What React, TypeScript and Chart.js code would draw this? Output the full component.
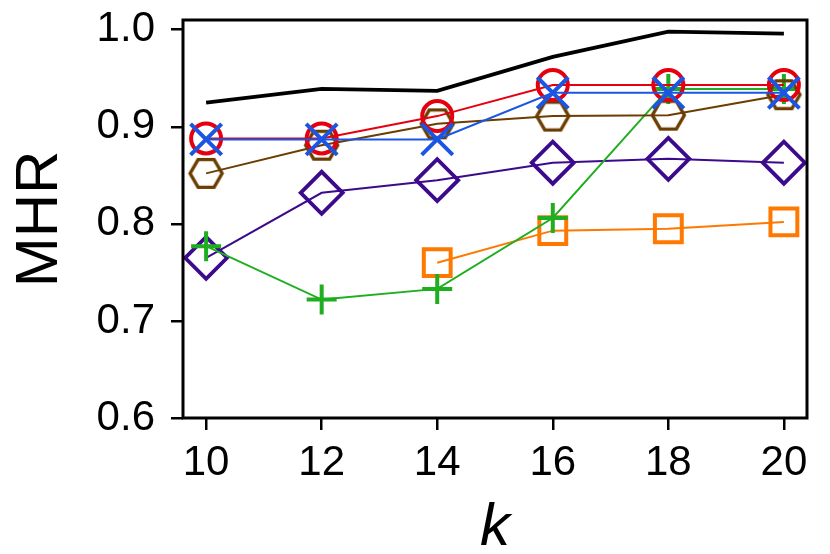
import React, { useEffect, useRef } from 'react';
import { Chart, registerables } from 'chart.js';

Chart.register(...registerables);

// k values on the x axis
const kValues = [10, 12, 14, 16, 18, 20];
const yTicks = [0.6, 0.7, 0.8, 0.9, 1.0];

// MHR values per method
const blackValues = [0.925, 0.939, 0.937, 0.972, 0.998, 0.996];
const redValues = [0.888, 0.888, 0.911, 0.943, 0.943, 0.943];
const blueValues = [0.887, 0.887, 0.887, 0.935, 0.935, 0.935];
const brownValues = [0.852, 0.881, 0.903, 0.911, 0.912, 0.933];
const purpleValues = [0.765, 0.832, 0.845, 0.863, 0.867, 0.863];
const greenValues = [0.777, 0.722, 0.733, 0.806, 0.939, 0.939];
const orangeValues = [null, null, 0.760, 0.793, 0.795, 0.802];

const FONT = "'Liberation Sans', Arial, Helvetica, sans-serif";

const toPoints = (vals: (number | null)[]) =>
  kValues.map((k, i) => ({ x: k, y: vals[i] }));

function makeHexagon(radius: number, color: string, lw: number) {
  const c = document.createElement('canvas');
  const w = Math.ceil(radius * 2 + lw * 2);
  const h = Math.ceil(Math.sqrt(3) * radius + lw * 2);
  c.width = w;
  c.height = h;
  const ctx = c.getContext('2d');
  if (ctx) {
    ctx.strokeStyle = color;
    ctx.lineWidth = lw;
    ctx.beginPath();
    for (let i = 0; i < 6; i++) {
      const a = (Math.PI / 3) * i;
      const x = w / 2 + radius * Math.cos(a);
      const y = h / 2 + radius * Math.sin(a);
      if (i === 0) ctx.moveTo(x, y);
      else ctx.lineTo(x, y);
    }
    ctx.closePath();
    ctx.stroke();
  }
  return c;
}

// box round the plot area, drawn over the data like matplotlib's spines
const framePlugin = {
  id: 'frame',
  afterDraw(chart: any) {
    const { ctx, chartArea } = chart;
    ctx.save();
    ctx.strokeStyle = '#000';
    ctx.lineWidth = 3;
    ctx.strokeRect(chartArea.left, chartArea.top, chartArea.right - chartArea.left, chartArea.bottom - chartArea.top);
    ctx.restore();
  },
};

export default function App() {
  const canvasRef = useRef<HTMLCanvasElement>(null);
  const chartRef = useRef<Chart | null>(null);

  useEffect(() => {
    document.body.style.margin = '0';
    if (!canvasRef.current) return;
    if (chartRef.current) chartRef.current.destroy();

    const hexagon = makeHexagon(16, '#6b3d00', 3.4);
    const hollow = 'rgba(0,0,0,0)';

    chartRef.current = new Chart(canvasRef.current, {
      type: 'line',
      data: {
        datasets: [
          { label: 'black', data: toPoints(blackValues), borderColor: '#000000', borderWidth: 3.8, pointRadius: 0, order: 7 },
          { label: 'orange', data: toPoints(orangeValues), borderColor: '#ff7800', borderWidth: 2, pointStyle: 'rect', pointRadius: 19, pointBorderWidth: 4, pointBorderColor: '#ff7800', pointBackgroundColor: hollow, order: 6 },
          { label: 'purple', data: toPoints(purpleValues), borderColor: '#3c0a8c', borderWidth: 2, pointStyle: 'rectRot', pointRadius: 21, pointBorderWidth: 3.8, pointBorderColor: '#3c0a8c', pointBackgroundColor: hollow, order: 5 },
          { label: 'green', data: toPoints(greenValues), borderColor: '#1fae1f', borderWidth: 2, pointStyle: 'cross', pointRadius: 15, pointBorderWidth: 4, pointBorderColor: '#1fae1f', pointBackgroundColor: hollow, order: 4 },
          { label: 'brown', data: toPoints(brownValues), borderColor: '#6b3d00', borderWidth: 2, pointStyle: hexagon, pointRadius: 16, order: 3 },
          { label: 'red', data: toPoints(redValues), borderColor: '#e6000f', borderWidth: 2, pointStyle: 'circle', pointRadius: 15, pointBorderWidth: 4, pointBorderColor: '#e6000f', pointBackgroundColor: hollow, order: 2 },
          { label: 'blue', data: toPoints(blueValues), borderColor: '#1a55e3', borderWidth: 2, pointStyle: 'crossRot', pointRadius: 22, pointBorderWidth: 4, pointBorderColor: '#1a55e3', pointBackgroundColor: hollow, order: 1 },
        ],
      },
      options: {
        responsive: false,
        animation: false,
        events: [],
        clip: false as any,
        layout: { autoPadding: false, padding: { top: 20, right: 23, left: 0, bottom: 0 } },
        elements: { line: { tension: 0 } },
        plugins: { legend: { display: false }, tooltip: { enabled: false } },
        scales: {
          x: {
            type: 'linear',
            min: 9.6,
            max: 20.4,
            afterBuildTicks: (scale: any) => { scale.ticks = kValues.map((v) => ({ value: v })); },
            afterFit: (scale: any) => { scale.height = 136; scale.paddingLeft = 0; scale.paddingRight = 0; },
            border: { display: false },
            grid: { display: true, drawOnChartArea: false, drawTicks: true, tickLength: 12, lineWidth: 2.5, tickWidth: 2.5, tickColor: '#000', color: '#000' },
            ticks: { color: '#000', padding: 8, maxRotation: 0, autoSkip: false, font: { family: FONT, size: 42 }, callback: (v: any) => String(v) },
            title: { display: true, text: 'k', color: '#000', padding: { top: 0, bottom: -4 }, font: { family: FONT, size: 60, style: 'italic', lineHeight: 1 } },
          },
          y: {
            type: 'linear',
            min: 0.6,
            max: 1.01,
            afterBuildTicks: (scale: any) => { scale.ticks = yTicks.map((v) => ({ value: v })); },
            afterFit: (scale: any) => { scale.width = 183; scale.paddingTop = 0; scale.paddingBottom = 0; },
            border: { display: false },
            grid: { display: true, drawOnChartArea: false, drawTicks: true, tickLength: 12, lineWidth: 2.5, tickWidth: 2.5, tickColor: '#000', color: '#000' },
            ticks: { color: '#000', padding: 16, autoSkip: false, font: { family: FONT, size: 42 }, callback: (v: any) => Number(v).toFixed(1) },
            title: { display: true, text: 'MHR', color: '#000', padding: { top: 4, bottom: 0 }, font: { family: FONT, size: 60 } },
          },
        },
      },
      plugins: [framePlugin],
    });

    return () => {
      if (chartRef.current) {
        chartRef.current.destroy();
        chartRef.current = null;
      }
    };
  }, []);

  return (
    <div style={{ width: 830, height: 554, background: '#fff' }}>
      <canvas ref={canvasRef} width={830} height={554} />
    </div>
  );
}
